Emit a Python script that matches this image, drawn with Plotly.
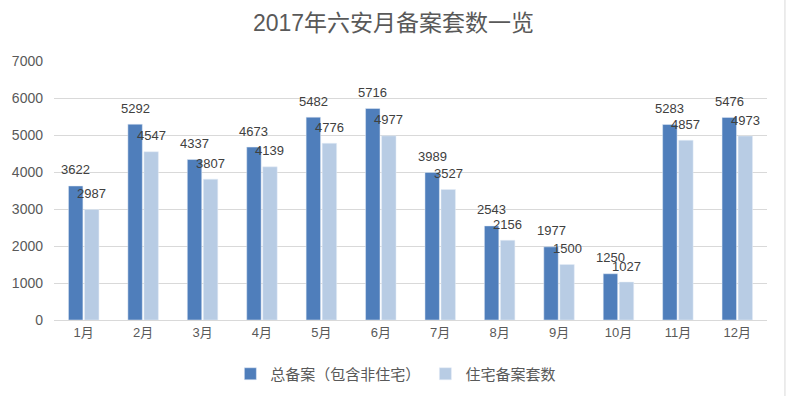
import plotly.graph_objects as go

months = ["1月", "2月", "3月", "4月", "5月", "6月", "7月", "8月", "9月", "10月", "11月", "12月"]
total = [3622, 5292, 4337, 4673, 5482, 5716, 3989, 2543, 1977, 1250, 5283, 5476]
residential = [2987, 4547, 3807, 4139, 4776, 4977, 3527, 2156, 1500, 1027, 4857, 4973]
series_names = ["总备案（包含非住宅）", "住宅备案套数"]
y_ticks = [0, 1000, 2000, 3000, 4000, 5000, 6000, 7000]

dark = "#4F7EBB"
light = "#B8CCE4"
font_family = "Liberation Sans, Noto Sans CJK SC, sans-serif"

fig = go.Figure()
fig.add_trace(go.Bar(x=months, y=total, name=series_names[0], marker_color=dark))
fig.add_trace(go.Bar(x=months, y=residential, name=series_names[1], marker_color=light))

annotations = []
for vals, shift in ((total, -8), (residential, 8)):
    for m, v in zip(months, vals):
        annotations.append(dict(x=m, y=v, xref="x", yref="y", text=str(v), showarrow=False,
                                xshift=shift, yshift=16, yanchor="middle", xanchor="center",
                                font=dict(size=13, color="#404040", family=font_family)))

fig.update_layout(
    width=787, height=396,
    margin=dict(l=52, r=20, t=61, b=76),
    paper_bgcolor="white", plot_bgcolor="white",
    barmode="group", bargap=0.46, bargroupgap=0.1,
    title=dict(text="2017年六安月备案套数一览", x=0.5, xref="container", xanchor="center",
               y=1 - 23 / 396, yref="container", yanchor="middle",
               font=dict(size=23, color="#595959", family=font_family)),
    font=dict(family=font_family, color="#595959", size=13),
    legend=dict(orientation="h", xref="container", yref="container", x=0.503, xanchor="center",
                y=1 - 374 / 396, yanchor="middle", font=dict(size=15, color="#595959"),
                itemwidth=30, traceorder="normal"),
    annotations=annotations,
    shapes=[dict(type="line", xref="paper", yref="paper", x0=(785 - 52) / 715, x1=(785 - 52) / 715,
                 y0=-76 / 259, y1=1 + 61 / 259, line=dict(color="#D9D9D9", width=1))],
)
fig.update_xaxes(showgrid=False, showline=True, linecolor="#D9D9D9", ticks="",
                 tickfont=dict(size=13, color="#595959"))
fig.update_yaxes(range=[0, 7000], tickvals=y_ticks, showgrid=True, gridcolor="#D9D9D9",
                 zeroline=False, showline=False, ticklabelstandoff=10,
                 tickfont=dict(size=14, color="#595959"))

fig.write_html("out.html", config={"displayModeBar": False},
               post_script="document.body.style.margin='0';")
